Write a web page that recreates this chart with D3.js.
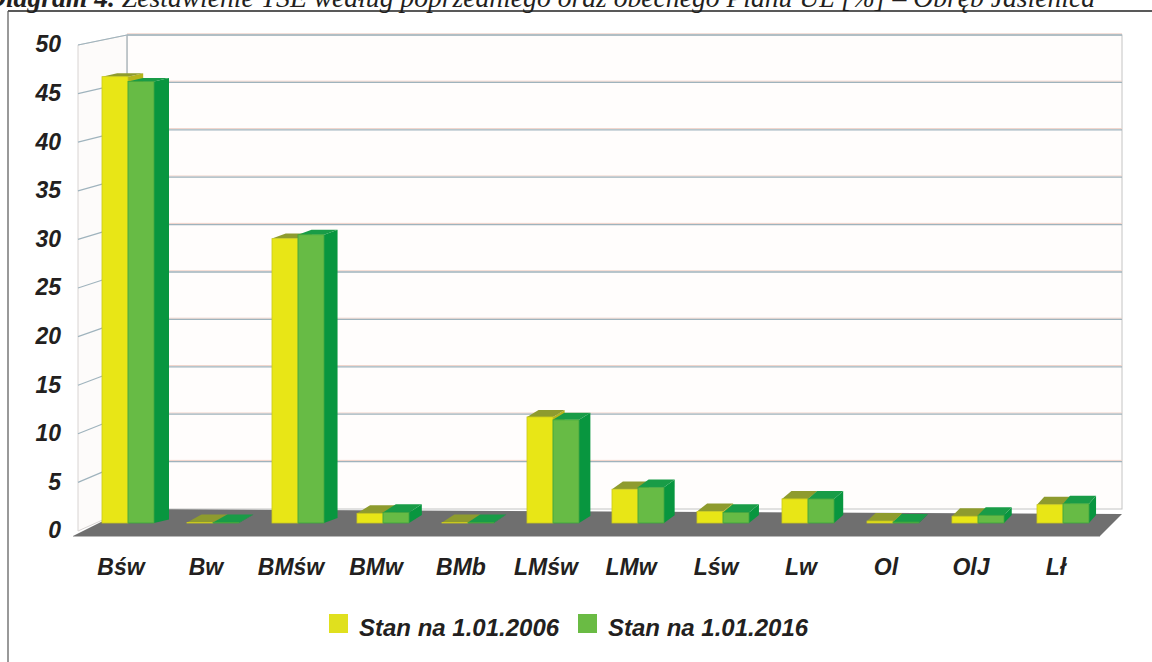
<!DOCTYPE html>
<html>
<head>
<meta charset="utf-8">
<script src="https://cdnjs.cloudflare.com/ajax/libs/d3/7.8.5/d3.min.js"></script>
<style>
  html, body { margin: 0; padding: 0; background: #fff; }
  svg { display: block; }
  text { font-family: "Liberation Sans", Arial, sans-serif; fill: #231f20; }
</style>
</head>
<body>
<div id="viz"></div>
<script>
// chart data
const categories = ['Bśw', 'Bw', 'BMśw', 'BMw', 'BMb', 'LMśw', 'LMw', 'Lśw', 'Lw', 'Ol', 'OlJ', 'Lł']
const seriesNames = ['Stan na 1.01.2006', 'Stan na 1.01.2016']
const values2006 = [46.3, 0.05, 29.5, 1.0, 0.05, 11.0, 3.5, 1.2, 2.5, 0.2, 0.7, 1.9]
const values2016 = [45.8, 0.05, 29.9, 1.1, 0.05, 10.7, 3.7, 1.1, 2.5, 0.1, 0.8, 2.0]
const yTicks = [0, 5, 10, 15, 20, 25, 30, 35, 40, 45, 50]

const render = () => {
    const width = 1152,
        height = 662

    const svg = d3.select('#viz').append('svg')
        .attr('width', width)
        .attr('height', height)

    // caption cut at the top of the page
    const cap = svg.append('text')
        .attr('x', -14)
        .attr('y', 6.5)
        .attr('textLength', 1109)
        .attr('lengthAdjust', 'spacingAndGlyphs')
        .style('font-family', '"Liberation Serif", "Times New Roman", serif')
        .style('font-style', 'italic')
        .style('font-size', '27px')
    cap.append('tspan').style('font-weight', 'bold').text('Diagram 4. ')
    cap.append('tspan').text('Zestawienie TSE według poprzedniego oraz obecnego Planu UL [%] – Obręb Jasienica')

    // frame
    svg.append('line').attr('x1', 8).attr('x2', width).attr('y1', 11).attr('y2', 11)
        .attr('stroke', '#222').attr('stroke-width', 1.5)
    svg.append('line').attr('x1', 8).attr('x2', 8).attr('y1', 11).attr('y2', height)
        .attr('stroke', '#555').attr('stroke-width', 1.2)

    // scales: back wall, front edge and bar plane
    const yBack = d3.scaleLinear().domain([0, 50]).range([509, 35])
    const yFront = d3.scaleLinear().domain([0, 50]).range([531, 45])
    const yBar = d3.scaleLinear().domain([0, 50]).range([523, 41])

    const x0 = d3.scaleBand()
        .domain(categories)
        .range([85.5, 1105.5])
        .paddingInner(0.388)
        .paddingOuter(0.194)
    const x1 = d3.scaleBand()
        .domain(seriesNames)
        .range([0, x0.bandwidth()])

    const wallL = 127, wallR = 1122, sideX = 78

    // back wall
    svg.append('rect')
        .attr('x', wallL).attr('y', yBack(50))
        .attr('width', wallR - wallL).attr('height', yBack(0) - yBack(50))
        .attr('fill', '#fffdfc')
        .attr('stroke', '#c4c4c4')

    // side wall
    svg.append('path')
        .attr('d', `M${sideX},${yFront(50)} L${wallL},${yBack(50)} L${wallL},${yBack(0)} L${sideX},${yFront(0)} Z`)
        .attr('fill', '#fdfbfa')
        .attr('stroke', '#d8d4d2')

    const grid = yTicks.filter(t => t > 0)
    svg.append('g').selectAll('line.pink').data(grid).enter()
        .append('line')
        .attr('x1', wallL).attr('x2', wallR)
        .attr('y1', d => yBack(d) - 1.2).attr('y2', d => yBack(d) - 1.2)
        .attr('stroke', '#f0d2c8').attr('stroke-width', 1)
    svg.append('g').selectAll('line.grid').data(grid).enter()
        .append('line')
        .attr('x1', wallL).attr('x2', wallR)
        .attr('y1', d => yBack(d)).attr('y2', d => yBack(d))
        .attr('stroke', '#9fb3bd').attr('stroke-width', 1.3)
    svg.append('g').selectAll('line').data(grid).enter()
        .append('line')
        .attr('x1', sideX).attr('x2', wallL)
        .attr('y1', d => yFront(d)).attr('y2', d => yBack(d))
        .attr('stroke', '#9fb3bd').attr('stroke-width', 1.2)
    svg.append('line')
        .attr('x1', wallL).attr('x2', wallL).attr('y1', yBack(50)).attr('y2', yBack(0))
        .attr('stroke', '#a9b6bd').attr('stroke-width', 1.2)

    // floor
    svg.append('path')
        .attr('d', `M${sideX - 5},536 L${wallL},${yBack(0)} L${wallR},${yBack(0) + 5} L1100,536 Z`)
        .attr('fill', '#6f6f6f')
    svg.append('line')
        .attr('x1', sideX - 5).attr('x2', 1100).attr('y1', 536.5).attr('y2', 536.5)
        .attr('stroke', '#b8b8b8').attr('stroke-width', 1)

    // y labels
    svg.append('g').selectAll('text').data(yTicks).enter()
        .append('text')
        .attr('x', 61)
        .attr('y', d => yFront(d))
        .attr('dy', '0.32em')
        .attr('text-anchor', 'end')
        .style('font-size', '23px')
        .style('font-weight', 'bold')
        .style('font-style', 'italic')
        .text(d => d)

    // x labels
    svg.append('g').selectAll('text').data(categories).enter()
        .append('text')
        .attr('x', d => x0(d) + x0.bandwidth() / 2 - 7)
        .attr('y', 575)
        .attr('text-anchor', 'middle')
        .style('font-size', '23px')
        .style('font-weight', 'bold')
        .style('font-style', 'italic')
        .text(d => d)

    // 3d columns
    const colors = {
        'Stan na 1.01.2006': { front: '#e8e616', top: '#8e9b2e', side: '#b5b51c', edge: '#c9c81e' },
        'Stan na 1.01.2016': { front: '#67bb45', top: '#199c47', side: '#08963f', edge: '#3ea63e' }
    }
    const depthX = xr => 15 - 8 * (xr - 153) / 940
    const depthY = yt => -(3 + 5 * (yt - 35) / 474)

    const rows = categories.map((c, i) => [
        { cat: c, s: seriesNames[0], v: values2006[i] },
        { cat: c, s: seriesNames[1], v: values2016[i] }
    ])

    const bars = svg.append('g')
    rows.forEach(pair => {
        pair.forEach(d => {
            const xl = x0(d.cat) + x1(d.s),
                xr = xl + x1.bandwidth(),
                yt = yBar(d.v),
                yb = yBar(0),
                dx = depthX(xr),
                dy = depthY(yt),
                col = colors[d.s]
            const g = bars.append('g')
            g.append('path')
                .attr('d', `M${xr},${yt} L${xr + dx},${yt + dy} L${xr + dx},${yb + dy} L${xr},${yb} Z`)
                .attr('fill', col.side)
            g.append('path')
                .attr('d', `M${xl},${yt} L${xl + dx},${yt + dy} L${xr + dx},${yt + dy} L${xr},${yt} Z`)
                .attr('fill', col.top)
            g.append('rect')
                .attr('x', xl).attr('y', yt)
                .attr('width', x1.bandwidth()).attr('height', yb - yt)
                .attr('fill', col.front)
                .attr('stroke', col.edge).attr('stroke-width', 0.8)
        })
    })

    // legend
    const legend = svg.append('g')
    const legX = [329, 578]
    seriesNames.forEach((s, i) => {
        legend.append('rect')
            .attr('x', legX[i]).attr('y', 614)
            .attr('width', 19).attr('height', 19)
            .attr('fill', i === 0 ? '#e0e01e' : '#6abb44')
        legend.append('text')
            .attr('x', legX[i] + 30).attr('y', 636)
            .style('font-size', '24px')
            .style('font-weight', 'bold')
            .style('font-style', 'italic')
            .text(s)
    })
}

render()
</script>
</body>
</html>
